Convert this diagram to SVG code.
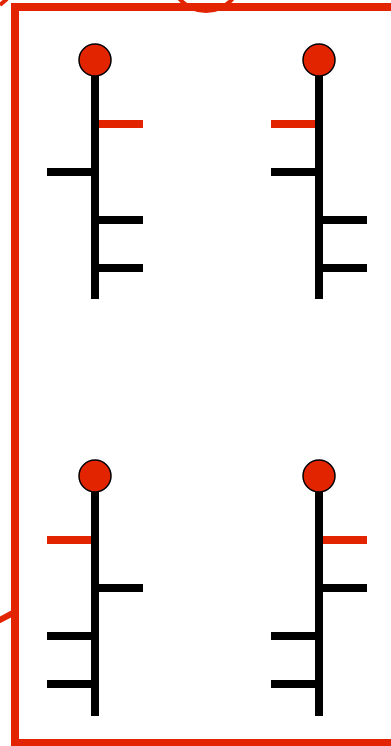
<svg xmlns="http://www.w3.org/2000/svg" width="391" height="746" viewBox="0 0 391 746">
  <style>
    .frame { fill: none; stroke: #e32400; stroke-width: 8; }
    .stem { stroke: #000; stroke-width: 8; fill: none; }
    .br { stroke: #000; stroke-width: 8; }
    .brr { stroke: #e32400; stroke-width: 8; }
    .head { fill: #e32400; stroke: #000; stroke-width: 1.5; }
    .deco { fill: none; stroke: #e32400; stroke-width: 4; }
  </style>
  <rect width="391" height="746" fill="#fff"/>
  <g id="frame">
    <circle class="deco" cx="206" cy="-24" r="35"/>
    <line class="deco" x1="0" y1="5" x2="7" y2="-1" stroke-width="4"/>
    <line x1="-2" y1="621" x2="13" y2="613" stroke="#e32400" stroke-width="6"/>
    <rect class="frame" x="15" y="7" width="400" height="736"/>
  </g>
  <g id="node-tl">
    <line class="stem" x1="95" y1="60" x2="95" y2="299"/>
    <line class="brr" x1="99" y1="124" x2="143" y2="124"/>
    <line class="br" x1="47" y1="172" x2="91" y2="172"/>
    <line class="br" x1="99" y1="220" x2="143" y2="220"/>
    <line class="br" x1="99" y1="268" x2="143" y2="268"/>
    <circle class="head" cx="95" cy="60" r="16"/>
  </g>
  <g id="node-tr">
    <line class="stem" x1="319" y1="60" x2="319" y2="299"/>
    <line class="brr" x1="271" y1="124" x2="315" y2="124"/>
    <line class="br" x1="271" y1="172" x2="315" y2="172"/>
    <line class="br" x1="323" y1="220" x2="367" y2="220"/>
    <line class="br" x1="323" y1="268" x2="367" y2="268"/>
    <circle class="head" cx="319" cy="60" r="16"/>
  </g>
  <g id="node-bl">
    <line class="stem" x1="95" y1="476" x2="95" y2="716"/>
    <line class="brr" x1="47" y1="540" x2="91" y2="540"/>
    <line class="br" x1="99" y1="588" x2="143" y2="588"/>
    <line class="br" x1="47" y1="636" x2="91" y2="636"/>
    <line class="br" x1="47" y1="684" x2="91" y2="684"/>
    <circle class="head" cx="95" cy="476" r="16"/>
  </g>
  <g id="node-br">
    <line class="stem" x1="319" y1="476" x2="319" y2="716"/>
    <line class="brr" x1="323" y1="540" x2="367" y2="540"/>
    <line class="br" x1="323" y1="588" x2="367" y2="588"/>
    <line class="br" x1="271" y1="636" x2="315" y2="636"/>
    <line class="br" x1="271" y1="684" x2="315" y2="684"/>
    <circle class="head" cx="319" cy="476" r="16"/>
  </g>
  <g id="connectors"/>
</svg>
